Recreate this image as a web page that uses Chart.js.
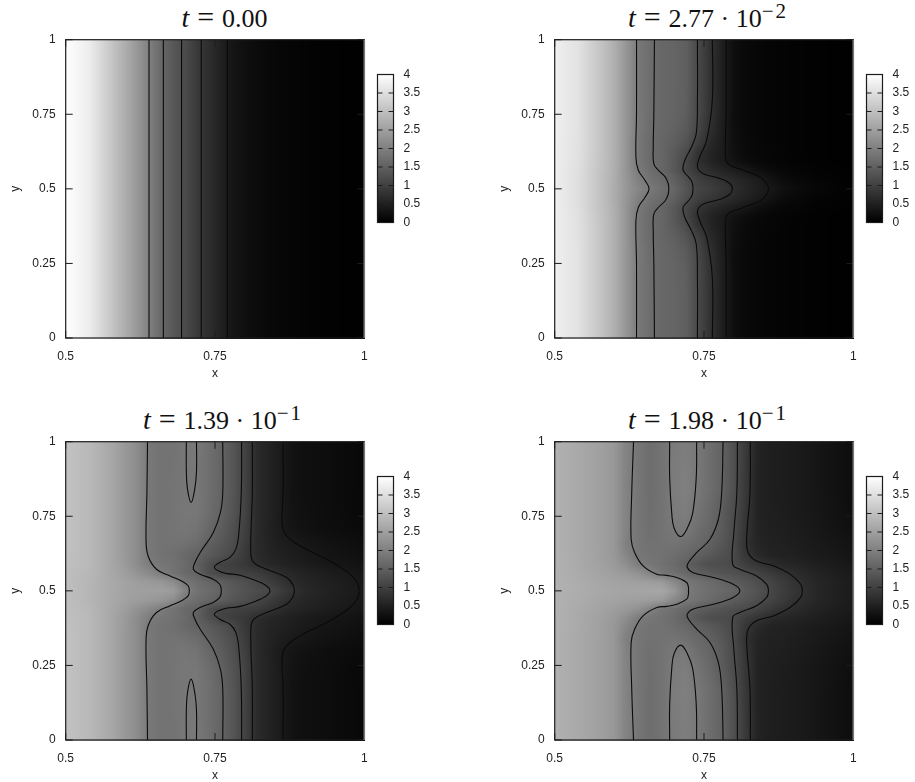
<!DOCTYPE html>
<html><head><meta charset="utf-8">
<script src="https://cdn.jsdelivr.net/npm/chart.js@4"></script>
<style>
html,body{margin:0;padding:0;background:#fff;width:915px;height:782px;overflow:hidden}
canvas{position:absolute}
.ttl{position:absolute;font-family:"Liberation Serif",serif;font-size:26px;color:#111;white-space:nowrap;transform:translateX(-50%);line-height:30px}
.ttl i{font-size:28px;margin-right:8px}
.ttl .e{font-size:30px;margin-right:8px;line-height:0}
.ttl .d{margin:0 6.5px}
.ttl sup{font-size:21px;line-height:0;position:relative;top:1px;vertical-align:super;letter-spacing:2px}
</style></head><body>
<div class="ttl" style="left:224.5px;top:3px"><i>t</i><span class="e">=</span>0.00</div>
<div class="ttl" style="left:708px;top:3px"><i>t</i><span class="e">=</span>2.77<span class="d">·</span>10<sup>−2</sup></div>
<div class="ttl" style="left:223px;top:405px"><i>t</i><span class="e">=</span>1.39<span class="d">·</span>10<sup>−1</sup></div>
<div class="ttl" style="left:708px;top:405px"><i>t</i><span class="e">=</span>1.98<span class="d">·</span>10<sup>−1</sup></div>
<canvas id="c0"></canvas><canvas id="c1"></canvas><canvas id="c2"></canvas><canvas id="c3"></canvas>
<canvas id="b0"></canvas><canvas id="b1"></canvas><canvas id="b2"></canvas><canvas id="b3"></canvas>
<script>
const xTickLabels=['0.5','0.75','1'];
const yTickLabels=['0','0.25','0.5','0.75','1'];
const barTickLabels=['0','0.5','1','1.5','2','2.5','3','3.5','4'];

const gridX=[.50,.54,.58,.60,.62,.64,.66,.68,.70,.72,.74,.76,.78,.80,.82,.84,.86,.88,.90,.94,1];
const gridYFlat=[.5,1];
const gridYHalf=[.5,.53,.56,.59,.62,.66,.70,.76,.84,1];

const profile0=[4,3.72,3.05,2.72,2.38,2.0,1.65,1.38,1.18,.92,.72,.52,.33,.24,.18,.13,.1,.08,.06,.03,.01];
const field0=[profile0,profile0];

const field1=[
[3.75,3.5,3.0,2.72,2.38,2.1,1.9,1.74,1.6,1.32,1.08,.98,.85,.72,.6,.48,.38,.28,.2,.1,.03],
[3.75,3.5,3.0,2.72,2.36,2.02,1.8,1.68,1.52,1.25,1.0,.88,.76,.65,.55,.44,.3,.2,.14,.07,.02],
[3.75,3.5,3.02,2.74,2.34,1.92,1.72,1.6,1.4,1.1,.85,.7,.58,.47,.38,.25,.18,.12,.09,.05,.02],
[3.75,3.52,3.04,2.75,2.34,1.88,1.68,1.6,1.4,1.1,.75,.58,.45,.3,.2,.14,.1,.08,.06,.03,.01],
[3.75,3.53,3.05,2.75,2.34,1.88,1.68,1.6,1.42,1.18,.78,.58,.44,.26,.16,.12,.09,.07,.05,.03,.01],
[3.75,3.54,3.05,2.75,2.34,1.88,1.68,1.6,1.5,1.32,1.0,.66,.46,.24,.15,.11,.08,.06,.05,.03,.01],
[3.75,3.55,3.05,2.75,2.35,1.9,1.7,1.62,1.55,1.42,1.1,.75,.47,.22,.14,.1,.08,.06,.05,.03,.01],
[3.75,3.55,3.05,2.75,2.35,1.9,1.72,1.62,1.58,1.48,1.15,.8,.5,.22,.14,.1,.08,.06,.05,.03,.01],
[3.75,3.55,3.05,2.75,2.35,1.9,1.72,1.62,1.58,1.5,1.15,.8,.5,.22,.14,.1,.08,.06,.05,.03,.01],
[3.75,3.55,3.05,2.75,2.35,1.9,1.72,1.62,1.58,1.5,1.15,.8,.5,.22,.14,.1,.08,.06,.05,.03,.01]];

const field2=[
[3.0,2.85,2.65,2.55,2.5,2.5,2.5,2.45,2.05,1.8,1.68,1.56,1.42,1.3,1.2,1.15,.95,.78,.65,.52,.38],
[3.0,2.85,2.64,2.55,2.47,2.42,2.36,2.2,1.85,1.72,1.6,1.5,1.35,1.25,1.12,.98,.82,.68,.6,.5,.36],
[3.0,2.88,2.62,2.48,2.3,2.15,1.95,1.8,1.65,1.56,1.22,1.1,1.05,1.0,.95,.82,.7,.6,.55,.45,.33],
[3.02,2.9,2.6,2.42,2.2,1.95,1.85,1.8,1.68,1.5,1.25,1.05,.98,.88,.72,.62,.55,.5,.44,.36,.28],
[3.03,2.9,2.6,2.4,2.2,1.88,1.8,1.75,1.65,1.56,1.42,1.28,1.13,.9,.68,.58,.52,.46,.4,.32,.24],
[3.05,2.9,2.6,2.4,2.2,1.88,1.8,1.8,1.78,1.7,1.52,1.38,1.22,.95,.68,.56,.47,.41,.36,.28,.2],
[3.05,2.9,2.6,2.4,2.2,1.88,1.8,1.82,1.85,1.8,1.62,1.45,1.25,1.0,.68,.54,.42,.33,.28,.22,.16],
[3.05,2.9,2.6,2.4,2.2,1.88,1.8,1.82,1.88,1.86,1.72,1.54,1.32,1.05,.68,.55,.42,.3,.25,.2,.13],
[3.05,2.9,2.6,2.4,2.2,1.88,1.8,1.82,1.87,1.87,1.75,1.58,1.35,1.05,.68,.55,.42,.28,.24,.2,.12],
[3.05,2.9,2.6,2.4,2.2,1.88,1.8,1.8,1.88,1.88,1.75,1.58,1.35,1.05,.68,.55,.42,.28,.24,.2,.12]];

const field3=[
[2.78,2.72,2.62,2.6,2.58,2.58,2.6,2.62,2.4,1.95,1.82,1.72,1.65,1.58,1.42,1.3,1.13,.98,.85,.6,.42],
[2.78,2.7,2.6,2.56,2.52,2.5,2.48,2.42,2.15,1.9,1.78,1.68,1.58,1.45,1.35,1.22,1.08,.95,.8,.6,.42],
[2.78,2.68,2.55,2.48,2.4,2.28,2.05,1.85,1.75,1.62,1.5,1.4,1.32,1.25,1.18,1.05,.92,.8,.7,.55,.4],
[2.78,2.66,2.52,2.42,2.22,1.95,1.85,1.78,1.68,1.52,1.35,1.22,1.2,1.15,.95,.82,.7,.62,.58,.48,.36],
[2.78,2.66,2.5,2.38,2.1,1.86,1.8,1.78,1.72,1.64,1.52,1.4,1.28,1.15,.85,.65,.55,.52,.5,.42,.32],
[2.78,2.65,2.5,2.38,2.0,1.85,1.78,1.8,1.82,1.75,1.65,1.52,1.38,1.15,.78,.58,.52,.5,.47,.4,.28],
[2.78,2.65,2.5,2.38,2.05,1.85,1.75,1.8,1.88,1.88,1.72,1.6,1.42,1.18,.82,.56,.5,.48,.45,.37,.25],
[2.78,2.65,2.5,2.38,2.05,1.85,1.73,1.8,1.93,1.96,1.82,1.65,1.45,1.2,.85,.55,.49,.46,.43,.35,.22],
[2.78,2.65,2.5,2.38,2.05,1.85,1.72,1.8,1.95,2.0,1.88,1.72,1.55,1.25,.88,.55,.48,.45,.42,.34,.2],
[2.78,2.65,2.5,2.38,2.05,1.85,1.72,1.8,1.92,1.96,1.88,1.72,1.56,1.25,.9,.55,.48,.45,.42,.34,.2]];

const c0=[[[.6395,1],[.6395,.5]],[[.6635,1],[.6635,.5]],[[.694,1],[.694,.5]],[[.727,1],[.727,.5]],[[.7706,1],[.7706,.5]]];
const c1=[
[[.637,1],[.637,.75],[.636,.607],[.640,.5625],[.651,.529],[.658,.5]],
[[.667,1],[.666,.75],[.665,.64],[.666,.584],[.6735,.5625],[.685,.54],[.69,.518],[.691,.5]],
[[.739,1],[.739,.8],[.737,.685],[.729,.64],[.718,.596],[.715,.5625],[.724,.54],[.730,.5225],[.7316,.5]],
[[.764,1],[.764,.8],[.7545,.663],[.743,.607],[.739,.574],[.749,.551],[.777,.535],[.7935,.518],[.7974,.5]],
[[.787,1],[.787,.75],[.786,.618],[.79,.585],[.816,.5625],[.844,.54],[.855,.518],[.858,.5]]];
const c2=[
[[.637,1],[.636,.829],[.6345,.673],[.638,.617],[.652,.5725],[.675,.55],[.694,.533],[.705,.517],[.707,.5]],
[[.763,1],[.763,.829],[.759,.762],[.747,.695],[.725,.628],[.7165,.595],[.7137,.5725],[.725,.556],[.747,.539],[.758,.522],[.7606,.5]],
[[.7946,1],[.794,.829],[.79,.695],[.785,.64],[.775,.612],[.758,.595],[.749,.578],[.764,.561],[.792,.552],[.82,.533],[.836,.517],[.842,.5]],
[[.8125,1],[.8125,.829],[.81,.628],[.815,.595],[.8365,.5725],[.87,.545],[.88,.522],[.883,.5]],
[[.864,1],[.864,.829],[.8627,.718],[.87,.684],[.892,.651],[.937,.606],[.973,.561],[.988,.528],[.9916,.5]]];
const island2=[[.702,1],[.702,.9],[.704,.84],[.71,.796],[.716,.84],[.719,.9],[.719,1]];
const c3=[
[[.632,1],[.629,.829],[.628,.673],[.634,.628],[.648,.584],[.671,.556],[.6875,.552],[.704,.545],[.721,.528],[.724,.511],[.724,.5]],
[[.782,1],[.7796,.829],[.774,.74],[.76,.673],[.7377,.628],[.724,.595],[.722,.578],[.732,.561],[.7656,.545],[.799,.522],[.81,.5]],
[[.806,1],[.805,.829],[.80,.695],[.798,.589],[.81,.5725],[.838,.55],[.855,.522],[.858,.5]],
[[.8276,1],[.827,.829],[.8214,.673],[.824,.628],[.838,.6],[.866,.584],[.894,.556],[.912,.522],[.9146,.5]]];
const island3=[[.6925,1],[.6925,.88],[.696,.76],[.70,.71],[.711,.682],[.722,.71],[.731,.76],[.737,.88],[.7377,1]];

const FONT='"Liberation Sans",Arial,sans-serif';
const FS=12;
const mirrorPath=h=>h.concat(h.slice(0,-1).reverse().map(([x,y])=>[x,1-y]));
const flip=h=>h.map(([x,y])=>[x,1-y]);
const grey=v=>Math.max(0,Math.min(255,Math.round(v*63.75)));
const noPad=s=>{s.paddingLeft=0;s.paddingRight=0;s.paddingTop=0;s.paddingBottom=0;};

const heatField={id:'heatField',beforeDatasetsDraw(chart,args,o){
  const {left,top,width,height}=chart.chartArea,sx=chart.scales.x,sy=chart.scales.y;
  const W=Math.ceil(width),H=Math.ceil(height),off=document.createElement('canvas');
  off.width=W;off.height=H;const oc=off.getContext('2d'),im=oc.createImageData(W,H);
  const find=(a,v)=>{let i=0;while(i<a.length-2&&v>a[i+1])i++;return i;};
  for(let py=0;py<H;py++){
    const yv=Math.min(1,Math.max(0,sy.getValueForPixel(top+py+.5)));
    const j=find(o.ys,yv),ty=(yv-o.ys[j])/(o.ys[j+1]-o.ys[j]);
    for(let px=0;px<W;px++){
      const xv=Math.min(1,Math.max(.5,sx.getValueForPixel(left+px+.5)));
      const i=find(o.xs,xv),tx=(xv-o.xs[i])/(o.xs[i+1]-o.xs[i]);
      const a=o.rows[j][i]*(1-tx)+o.rows[j][i+1]*tx,b=o.rows[j+1][i]*(1-tx)+o.rows[j+1][i+1]*tx;
      const g=grey(a*(1-ty)+b*ty),k=(py*W+px)*4;
      im.data[k]=im.data[k+1]=im.data[k+2]=g;im.data[k+3]=255;
    }
  }
  oc.putImageData(im,0,0);
  chart.ctx.drawImage(off,left,top);
}};
const frameTicks={id:'frameTicks',afterDatasetsDraw(chart,args,o){
  const {left,top,right,bottom}=chart.chartArea,c=chart.ctx;
  c.save();c.strokeStyle='#1c1c1c';c.lineWidth=1;
  c.beginPath();
  chart.scales.y.ticks.forEach(t=>{const p=chart.scales.y.getPixelForValue(t.value);
    c.moveTo(left,p);c.lineTo(left+o.len,p);c.moveTo(right,p);c.lineTo(right-o.len,p);});
  if(chart.scales.x.type==='linear')chart.scales.x.ticks.forEach(t=>{const p=chart.scales.x.getPixelForValue(t.value);
    c.moveTo(p,bottom);c.lineTo(p,bottom-o.len);c.moveTo(p,top);c.lineTo(p,top+o.len);});
  c.stroke();
  c.lineWidth=1.2;c.strokeRect(left,top,right-left,bottom-top);
  if(o.greyRight){c.strokeStyle='#777';c.lineWidth=1.6;c.beginPath();c.moveTo(right,top);c.lineTo(right,bottom);c.stroke();}
  c.restore();
}};

function mainChart(id,ox,oy,xs,ys,rows,paths){
  const cv=document.getElementById(id);cv.width=370;cv.height=381;
  cv.style.cssText=`left:${ox}px;top:${oy}px;width:370px;height:381px`;
  const fullY=ys.slice(1).reverse().map(y=>1-y).concat(ys);
  const fullRows=rows.slice(1).reverse().concat(rows);
  const cells=[];fullRows.forEach((r,j)=>r.forEach((v,i)=>cells.push({x:xs[i],y:fullY[j],v})));
  const datasets=[{label:'field',data:cells,pointRadius:0,showLine:false}];
  paths.forEach((p,k)=>datasets.push({label:'contour '+k,data:p.map(([x,y])=>({x,y})),showLine:true,pointRadius:0,
    borderColor:'#0a0a0a',borderWidth:1.1,tension:.4,fill:false}));
  return new Chart(cv,{type:'scatter',data:{datasets},plugins:[heatField,frameTicks],options:{
    responsive:false,animation:false,devicePixelRatio:1,
    layout:{padding:{top:39.7,right:5.7,left:0,bottom:0}},
    plugins:{legend:{display:false},tooltip:{enabled:false},
      heatField:{xs,ys:fullY,rows:fullRows},frameTicks:{len:7,greyRight:true}},
    scales:{
      x:{type:'linear',min:.5,max:1,grid:{display:false,drawTicks:false},border:{display:false},
        afterFit:s=>{s.height=43;noPad(s);},
        title:{display:true,text:'x',color:'#222',font:{family:FONT,size:FS},padding:0},
        ticks:{stepSize:.25,color:'#222',font:{family:FONT,size:FS},padding:11,maxRotation:0,
          callback:(v,i)=>xTickLabels[i]}},
      y:{type:'linear',min:0,max:1,grid:{display:false,drawTicks:false},border:{display:false},
        afterFit:s=>{s.width=65.7;noPad(s);},
        title:{display:true,text:'y',color:'#222',font:{family:FONT,size:FS},padding:{top:8,bottom:0}},
        ticks:{stepSize:.25,color:'#222',font:{family:FONT,size:FS},padding:10,
          callback:(v,i)=>yTickLabels[i]}}
    }}});
}
function colorBar(id,ox,oy){
  const cv=document.getElementById(id);cv.width=60;cv.height=170;
  cv.style.cssText=`left:${ox}px;top:${oy}px;width:60px;height:170px`;
  return new Chart(cv,{type:'bar',data:{labels:['z'],datasets:[{label:'palette',data:[[0,4]],barPercentage:1,categoryPercentage:1,
    backgroundColor:c=>{const a=c.chart.chartArea;if(!a)return '#888';
      const g=c.chart.ctx.createLinearGradient(0,a.bottom,0,a.top);g.addColorStop(0,'#000');g.addColorStop(1,'#fff');return g;}}]},
    plugins:[frameTicks],options:{responsive:false,animation:false,devicePixelRatio:1,
      layout:{padding:{top:10.5,left:5.5,bottom:11.5,right:0}},
      plugins:{legend:{display:false},tooltip:{enabled:false},frameTicks:{len:5}},
      scales:{x:{display:false},
        y:{position:'right',min:0,max:4,grid:{display:false,drawTicks:false},border:{display:false},
          afterFit:s=>{s.width=38.5;noPad(s);},
          ticks:{stepSize:.5,color:'#222',font:{family:FONT,size:FS},padding:10,autoSkip:false,
            callback:(v,i)=>barTickLabels[i]}}}}});
}
mainChart('c0',0,0,gridX,gridYFlat,field0,c0.map(mirrorPath));
mainChart('c1',489,0,gridX,gridYHalf,field1,c1.map(mirrorPath));
mainChart('c2',0,402,gridX,gridYHalf,field2,c2.map(mirrorPath).concat([island2,flip(island2)]));
mainChart('c3',489,402,gridX,gridYHalf,field3,c3.map(mirrorPath).concat([island3,flip(island3)]));
colorBar('b0',372,64);colorBar('b1',861,64);colorBar('b2',372,465.5);colorBar('b3',861,465.5);
</script></body></html>
